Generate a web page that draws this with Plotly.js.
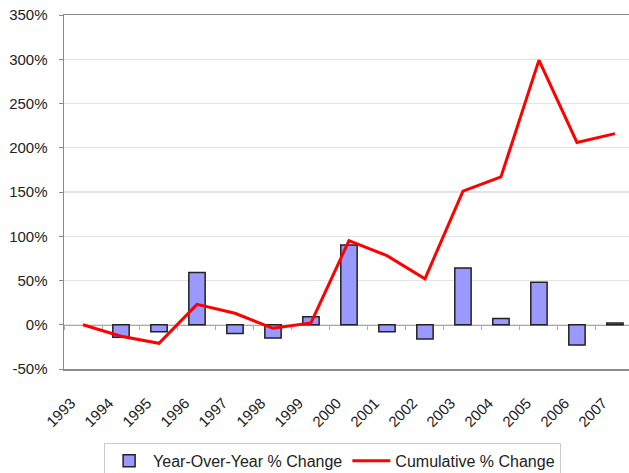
<!DOCTYPE html>
<html>
<head>
<meta charset="utf-8">
<script src="https://cdn.plot.ly/plotly-3.0.1.min.js"></script>
<style>html,body{margin:0;padding:0;background:#fff;}#chart{width:629px;height:473px;}</style>
</head>
<body>
<div id="chart"></div>
<script>
var years = [1993, 1994, 1995, 1996, 1997, 1998, 1999, 2000, 2001, 2002, 2003, 2004, 2005, 2006, 2007];
var yearLabels = ["1993","1994","1995","1996","1997","1998","1999","2000","2001","2002","2003","2004","2005","2006","2007"];
var yoyChange = [null, -14, -8, 59, -10, -15, 9, 90, -8, -16, 64, 7, 48, -23, 2];
var cumulativeChange = [0, -13, -21, 23, 13, -4, 2, 95, 78, 52, 151, 167, 299, 206, 216];
var yTickVals = [-50, 0, 50, 100, 150, 200, 250, 300, 350];
var yTickText = ["-50%", "0%", "50%", "100%", "150%", "200%", "250%", "300%", "350%"];
var boundaries = [1992.5,1993.5,1994.5,1995.5,1996.5,1997.5,1998.5,1999.5,2000.5,2001.5,2002.5,2003.5,2004.5,2005.5,2006.5,2007.5];

var font = "Liberation Sans, Arial, Helvetica, sans-serif";
var xr = [1992.5, 2007.37];

var data = [
  {
    type: "bar", x: years, y: yoyChange, name: "Year-Over-Year % Change",
    width: 0.43,
    marker: {color: "#9999ff", line: {color: "#222222", width: 1.5}},
    xaxis: "x", yaxis: "y"
  },
  {
    type: "scatter", mode: "lines", x: years, y: cumulativeChange, name: "Cumulative % Change",
    line: {color: "#ff0000", width: 3},
    xaxis: "x2", yaxis: "y"
  }
];

var layout = {
  width: 629, height: 473,
  margin: {l: 64, r: 0, t: 15, b: 104, autoexpand: false},
  paper_bgcolor: "#ffffff", plot_bgcolor: "#ffffff",
  font: {family: font, size: 15, color: "#222222"},
  showlegend: true,
  legend: {
    orientation: "h", x: 0.071, xanchor: "left",
    yref: "container", y: 0.064, yanchor: "top",
    bordercolor: "#cccccc", borderwidth: 1,
    font: {family: font, size: 16, color: "#222222"},
    itemwidth: 38, traceorder: "normal"
  },
  xaxis: {
    type: "linear", range: xr, automargin: false,
    tickvals: years, ticktext: yearLabels, tickangle: -45,
    ticklabelstandoff: 18, ticklabelshift: -12,
    ticks: "", showgrid: false, zeroline: false,
    showline: true, mirror: true, linecolor: "#8a8a8a", linewidth: 1.5,
    tickfont: {family: font, size: 15, color: "#222222"}
  },
  xaxis2: {
    type: "linear", range: xr, overlaying: "x", anchor: "free", position: 0.125, side: "bottom",
    automargin: false, layer: "below traces",
    tickvals: boundaries, showticklabels: false,
    ticks: "outside", ticklen: 4, tickcolor: "#aaaaaa", tickwidth: 1,
    showgrid: false, zeroline: false,
    showline: true, linecolor: "#aaaaaa", linewidth: 1.5
  },
  yaxis: {
    range: [-50, 350], tickvals: yTickVals, ticktext: yTickText, automargin: false,
    showgrid: true, gridcolor: "#e3e3e3", gridwidth: 1.2,
    zeroline: false,
    showline: true, linecolor: "#8a8a8a", linewidth: 1.5,
    ticks: "outside", ticklen: 4, tickcolor: "#8a8a8a",
    ticklabelstandoff: 8,
    tickfont: {family: font, size: 15, color: "#222222"}
  },
  bargap: 0.5
};

Plotly.newPlot("chart", data, layout, {displayModeBar: false, staticPlot: true});
</script>
</body>
</html>
